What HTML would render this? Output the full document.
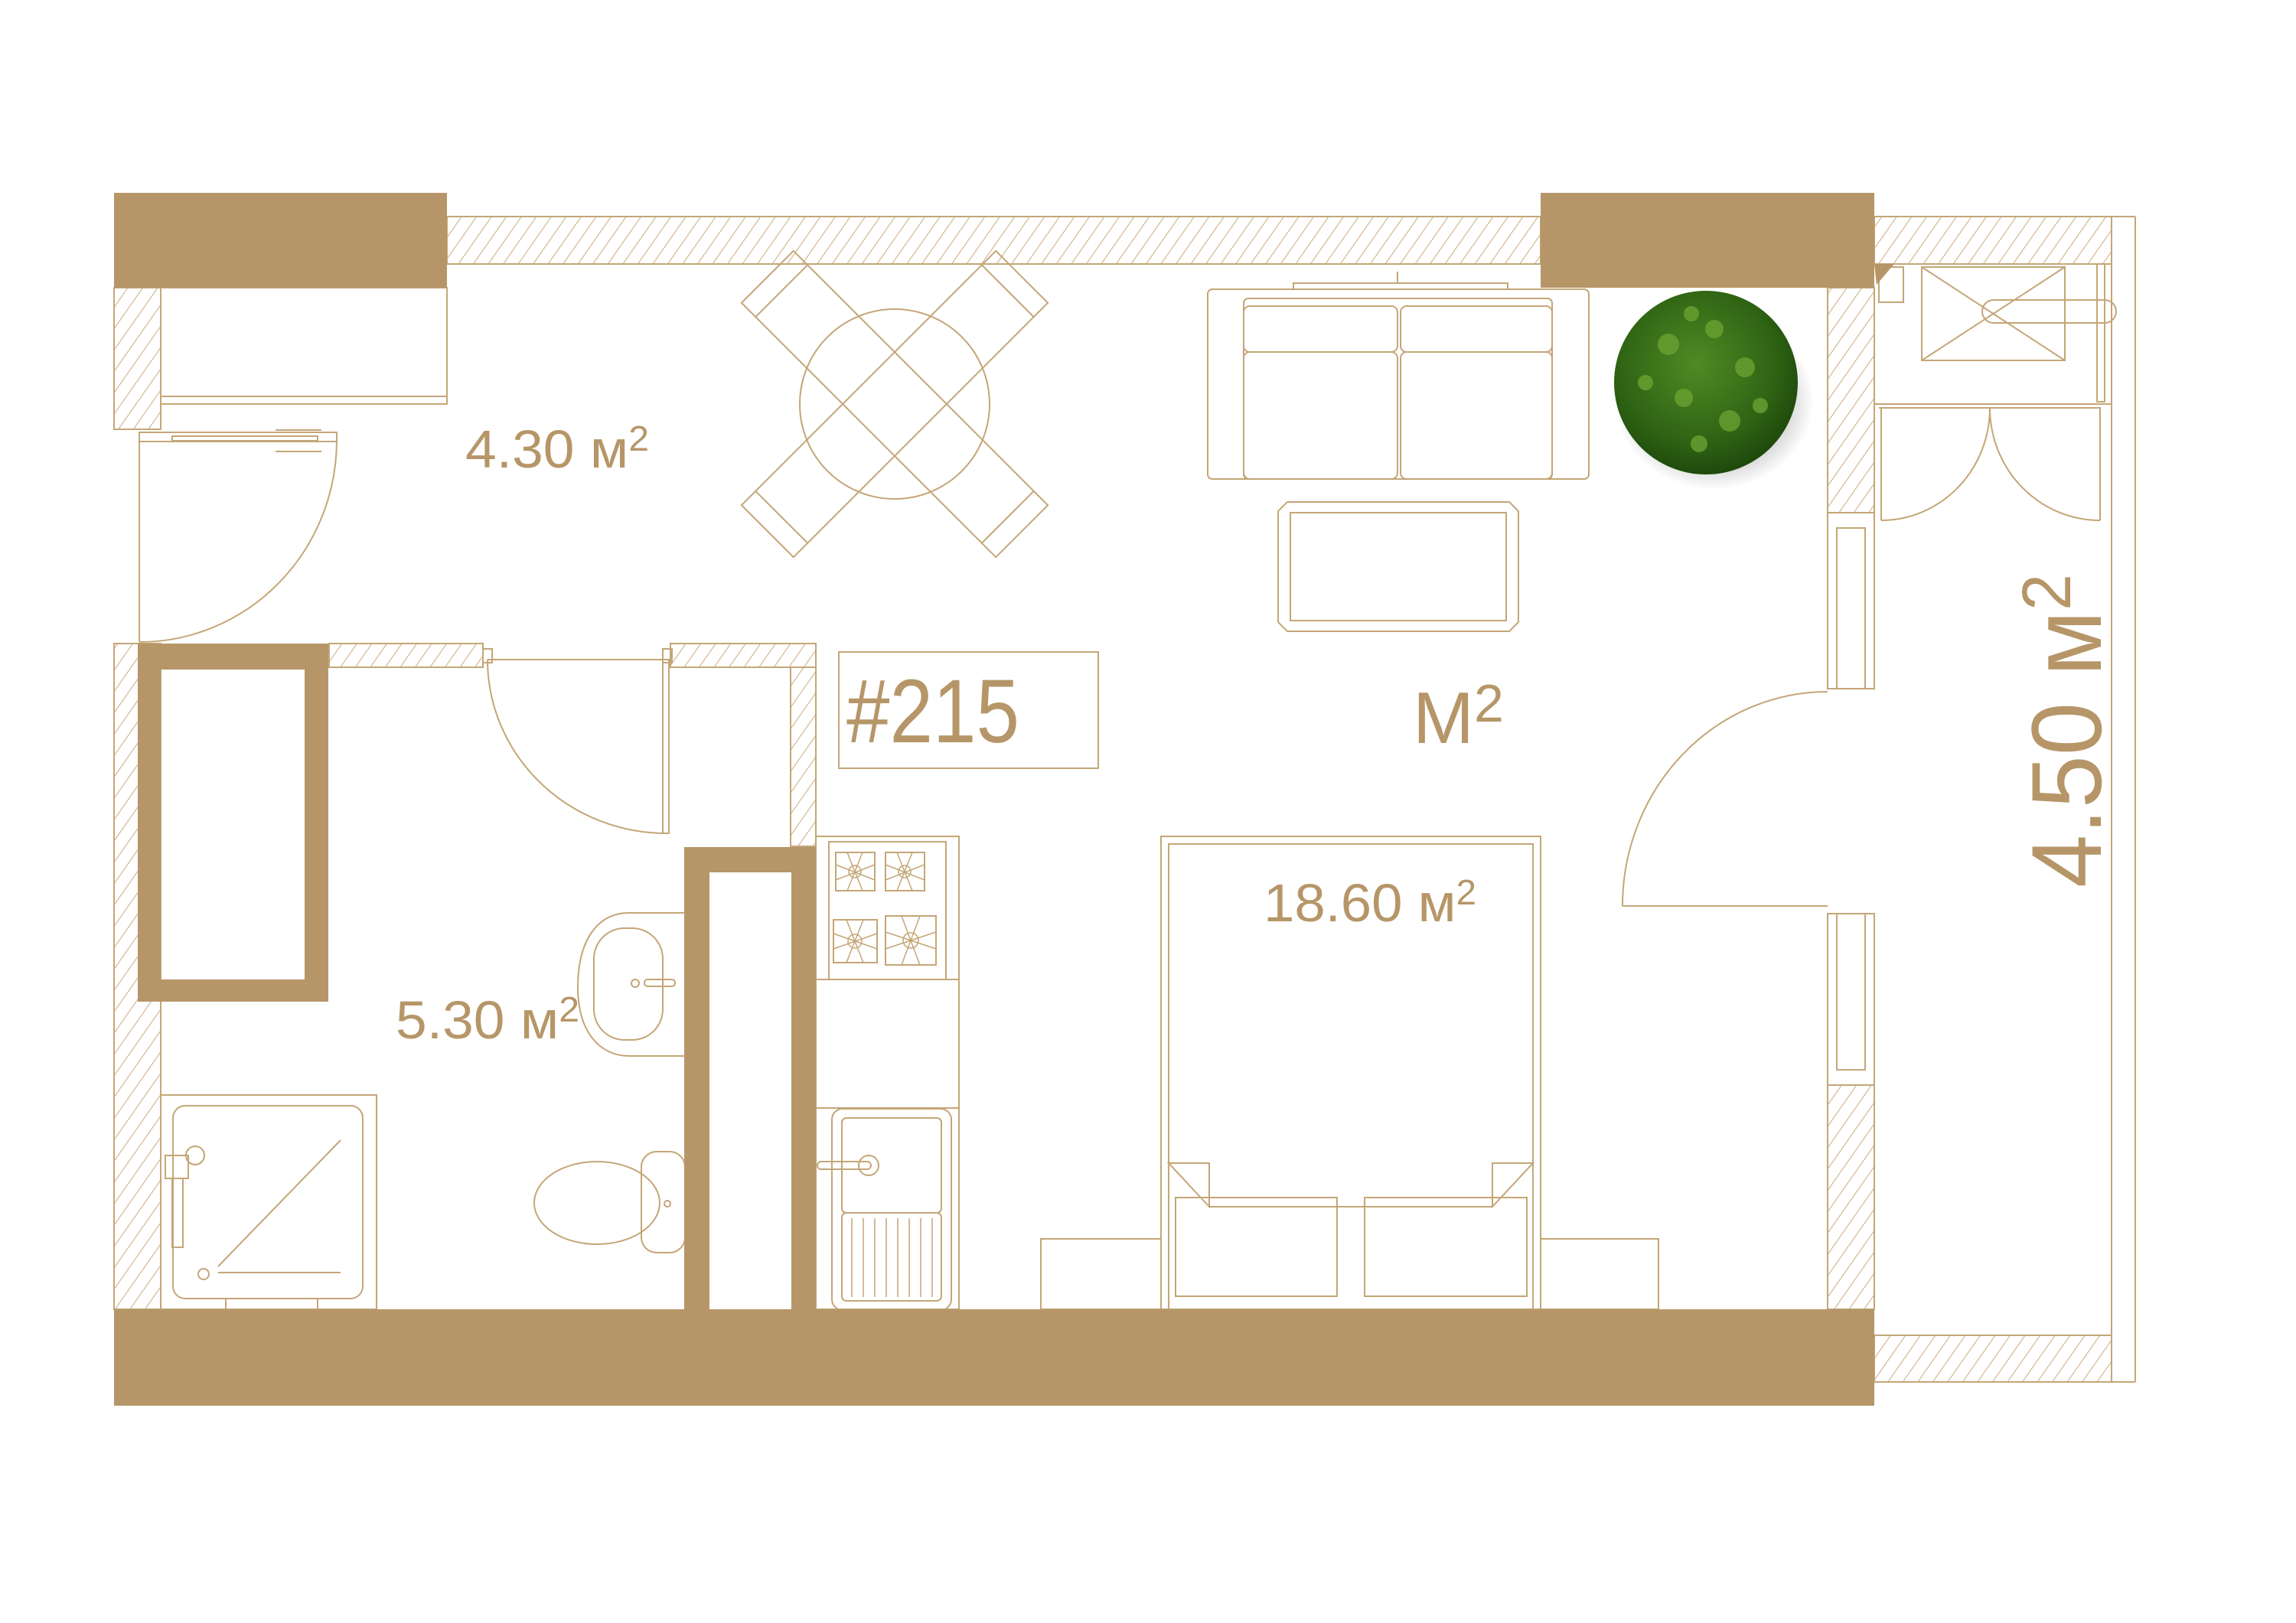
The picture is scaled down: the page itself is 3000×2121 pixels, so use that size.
<!DOCTYPE html>
<html><head><meta charset="utf-8"><style>
html,body{margin:0;padding:0;background:#fff;}
svg{display:block;}
text{font-family:"Liberation Sans",sans-serif;fill:#b69668;}
</style></head><body>
<svg width="3000" height="2121" viewBox="0 0 3000 2121" xmlns="http://www.w3.org/2000/svg">
<defs>
<pattern id="h" patternUnits="userSpaceOnUse" width="16" height="16" patternTransform="rotate(35)">
<rect width="16" height="16" fill="#fff"/><line x1="0" y1="0" x2="0" y2="16" stroke="#c9ab80" stroke-width="2"/>
</pattern>
<radialGradient id="pg" cx="45%" cy="40%" r="60%"><stop offset="0" stop-color="#4f8a24"/><stop offset="0.7" stop-color="#2f6414"/><stop offset="1" stop-color="#1f4a0c"/></radialGradient>
<radialGradient id="sh" cx="50%" cy="50%" r="50%"><stop offset="0.6" stop-color="#000" stop-opacity="0.25"/><stop offset="1" stop-color="#000" stop-opacity="0"/></radialGradient>
</defs>
<g stroke="#c4a677" stroke-width="2" fill="none">
<!-- hatched walls -->
<g fill="url(#h)">
<rect x="584" y="283" width="1429" height="62"/>
<rect x="2449" y="283" width="310" height="62"/>
<rect x="2449" y="1745" width="310" height="61"/>
<rect x="149" y="376" width="61" height="185"/>
<rect x="149" y="841" width="61" height="870"/>
<rect x="2388" y="376" width="61" height="294"/>
<rect x="2388" y="1418" width="61" height="293"/>
<rect x="430" y="841" width="201" height="31"/>
<rect x="876" y="841" width="190" height="31"/>
<rect x="1033" y="872" width="33" height="234"/>
</g>
<!-- balcony outer -->
<line x1="2759" y1="283" x2="2759" y2="1806"/>
<line x1="2790" y1="283" x2="2790" y2="1806"/>
<line x1="2759" y1="283" x2="2790" y2="283"/>
<line x1="2759" y1="1806" x2="2790" y2="1806"/>
<!-- right windows -->
<rect x="2388" y="670" width="61" height="230"/><rect x="2400" y="690" width="37" height="210"/>
<rect x="2388" y="1194" width="61" height="224"/><rect x="2400" y="1194" width="37" height="204"/>
<!-- entry door -->
<line x1="182" y1="575" x2="182" y2="839"/>
<path d="M440 575 A258 264 0 0 1 182 839"/>
<rect x="182" y="565" width="258" height="12"/><rect x="225" y="570" width="190" height="6"/>
<line x1="360" y1="562" x2="420" y2="562"/><line x1="360" y1="590" x2="420" y2="590"/>
<!-- closet -->
<rect x="210" y="376" width="374" height="152"/><line x1="210" y1="518" x2="584" y2="518"/>
<!-- bathroom door -->
<path d="M637 862 A234 227 0 0 0 871 1089"/>
<rect x="866" y="862" width="8" height="227"/>
<rect x="631" y="848" width="12" height="18"/><rect x="866" y="848" width="12" height="18"/>
<line x1="637" y1="862" x2="866" y2="862"/>
<!-- #215 box -->
<rect x="1096" y="852" width="339" height="152"/>
<!-- dining -->
<circle cx="1169" cy="528" r="124"/>
<g transform="rotate(45 1169 528)"><rect x="934" y="480" width="470" height="96"/><line x1="960" y1="480" x2="960" y2="576"/><line x1="1378" y1="480" x2="1378" y2="576"/></g>
<g transform="rotate(-45 1169 528)"><rect x="934" y="480" width="470" height="96"/><line x1="960" y1="480" x2="960" y2="576"/><line x1="1378" y1="480" x2="1378" y2="576"/></g>
<!-- sofa -->
<rect x="1578" y="378" width="498" height="248" rx="6"/>
<rect x="1625" y="390" width="403" height="236" rx="6"/>
<rect x="1625" y="400" width="201" height="60" rx="8"/><rect x="1830" y="400" width="198" height="60" rx="8"/>
<rect x="1625" y="460" width="201" height="166" rx="8"/><rect x="1830" y="460" width="198" height="166" rx="8"/>
<rect x="1690" y="370" width="280" height="8"/><line x1="1826" y1="355" x2="1826" y2="370"/>
<!-- coffee table -->
<path d="M1682 656 H1972 L1984 668 V813 L1972 825 H1682 L1670 813 V668 Z"/>
<rect x="1686" y="670" width="282" height="141"/>
<!-- bed -->
<rect x="1517" y="1093" width="496" height="618"/>
<rect x="1527" y="1103" width="476" height="608"/>
<path d="M1527 1520 H1580 L1580 1577 Z M2003 1520 H1950 L1950 1577 Z"/>
<line x1="1580" y1="1577" x2="1950" y2="1577"/>
<rect x="1536" y="1565" width="211" height="129"/><rect x="1783" y="1565" width="212" height="129"/>
<rect x="1360" y="1619" width="157" height="92"/><rect x="2013" y="1619" width="154" height="92"/>
<!-- big door -->
<line x1="2120" y1="1184" x2="2388" y2="1184"/>
<path d="M2120 1184 A268 280 0 0 1 2388 904"/>
<!-- kitchen -->
<rect x="1066" y="1093" width="187" height="618"/>
<rect x="1083" y="1100" width="153" height="180"/><line x1="1066" y1="1280" x2="1253" y2="1280"/>
<rect x="1092" y="1114" width="51" height="50"/><rect x="1157" y="1114" width="51" height="50"/>
<rect x="1089" y="1202" width="57" height="56"/><rect x="1157" y="1197" width="66" height="64"/>
<g stroke-width="1.5"><circle cx="1117" cy="1139" r="8"/><circle cx="1182" cy="1139" r="8"/><circle cx="1117" cy="1230" r="9"/><circle cx="1190" cy="1229" r="10"/>
<path d="M1092 1130 L1143 1150 M1092 1150 L1143 1130 M1107 1114 L1127 1164 M1127 1114 L1107 1164"/>
<path d="M1157 1130 L1208 1150 M1157 1150 L1208 1130 M1172 1114 L1192 1164 M1192 1114 L1172 1164"/>
<path d="M1089 1220 L1146 1240 M1089 1240 L1146 1220 M1106 1202 L1128 1258 M1128 1202 L1106 1258"/>
<path d="M1157 1218 L1223 1240 M1157 1240 L1223 1218 M1178 1197 L1202 1261 M1202 1197 L1178 1261"/></g>
<line x1="1066" y1="1448" x2="1253" y2="1448"/>
<rect x="1087" y="1449" width="156" height="263" rx="14"/>
<rect x="1100" y="1461" width="130" height="124" rx="6"/>
<rect x="1100" y="1585" width="130" height="115" rx="6"/>
<g stroke-width="1.5"><path d="M1113 1592V1695 M1128 1592V1695 M1143 1592V1695 M1158 1592V1695 M1173 1592V1695 M1188 1592V1695 M1203 1592V1695 M1218 1592V1695"/></g>
<circle cx="1135" cy="1523" r="13"/><rect x="1068" y="1518" width="70" height="10" rx="5"/>
<!-- bathroom -->
<path d="M895 1193 H822 C780 1193 755 1230 755 1290 C755 1350 785 1380 822 1380 H895"/>
<rect x="776" y="1213" width="90" height="146" rx="40"/>
<circle cx="830" cy="1285" r="5"/><rect x="842" y="1280" width="40" height="9" rx="4"/>
<rect x="838" y="1505" width="57" height="132" rx="20"/>
<ellipse cx="780" cy="1572" rx="82" ry="54"/>
<circle cx="872" cy="1573" r="4"/>
<rect x="210" y="1431" width="282" height="280"/>
<rect x="226" y="1445" width="248" height="252" rx="16"/>
<line x1="285" y1="1655" x2="445" y2="1490"/>
<line x1="285" y1="1663" x2="445" y2="1663"/>
<circle cx="266" cy="1665" r="7"/>
<rect x="295" y="1697" width="120" height="14"/>
<rect x="216" y="1510" width="30" height="30"/><circle cx="255" cy="1510" r="12"/><rect x="225" y="1540" width="14" height="90"/>
<!-- balcony furniture -->
<rect x="2455" y="349" width="32" height="46"/>
<rect x="2511" y="349" width="187" height="122"/>
<line x1="2511" y1="349" x2="2698" y2="471"/><line x1="2698" y1="349" x2="2511" y2="471"/>
<rect x="2590" y="392" width="175" height="30" rx="15"/>
<rect x="2740" y="345" width="10" height="180"/>
<line x1="2449" y1="528" x2="2759" y2="528"/><line x1="2455" y1="533" x2="2745" y2="533"/>
<line x1="2458" y1="533" x2="2458" y2="680"/><line x1="2744" y1="533" x2="2744" y2="680"/>
<path d="M2600 533 A142 147 0 0 1 2458 680"/>
<path d="M2600 533 A144 147 0 0 0 2744 680"/>
</g>
<!-- solid walls -->
<g fill="#b69668">
<rect x="149" y="252" width="435" height="124"/>
<rect x="2013" y="252" width="436" height="124"/>
<path d="M2449 345 L2475 345 L2452 372 Z"/>
<rect x="149" y="1711" width="2300" height="126"/>
<path fill-rule="evenodd" d="M180 841 H429 V1309 H180 Z M210 875 V1280 H398 V875 Z"/>
<path fill-rule="evenodd" d="M894 1107 H1066 V1711 H894 Z M927 1140 V1711 H1034 V1140 Z"/>
</g>
<!-- plant -->
<ellipse cx="2240" cy="525" rx="130" ry="115" fill="url(#sh)"/>
<circle cx="2229" cy="500" r="120" fill="url(#pg)"/>
<g fill="#6aa232" opacity="0.8">
<circle cx="2180" cy="450" r="14"/><circle cx="2240" cy="430" r="12"/><circle cx="2280" cy="480" r="13"/><circle cx="2200" cy="520" r="12"/><circle cx="2260" cy="550" r="14"/><circle cx="2150" cy="500" r="10"/><circle cx="2300" cy="530" r="10"/><circle cx="2220" cy="580" r="11"/><circle cx="2210" cy="410" r="10"/>
</g>
<!-- text -->
<text x="608" y="611" font-size="70" textLength="240" lengthAdjust="spacingAndGlyphs">4.30 м<tspan font-size="46" dy="-22">2</tspan></text>
<text x="517" y="1357" font-size="70" textLength="240" lengthAdjust="spacingAndGlyphs">5.30 м<tspan font-size="46" dy="-22">2</tspan></text>
<text x="1651" y="1204" font-size="70" textLength="278" lengthAdjust="spacingAndGlyphs">18.60 м<tspan font-size="46" dy="-22">2</tspan></text>
<text x="1106" y="970" font-size="118" textLength="226" lengthAdjust="spacingAndGlyphs">#215</text>
<text x="1846" y="971" font-size="96">M<tspan font-size="70" dy="-28">2</tspan></text>
<text transform="translate(2745 1160) rotate(-90)" font-size="130" textLength="410" lengthAdjust="spacingAndGlyphs">4.50 м<tspan font-size="90" dy="-40">2</tspan></text>
</svg>
</body></html>
